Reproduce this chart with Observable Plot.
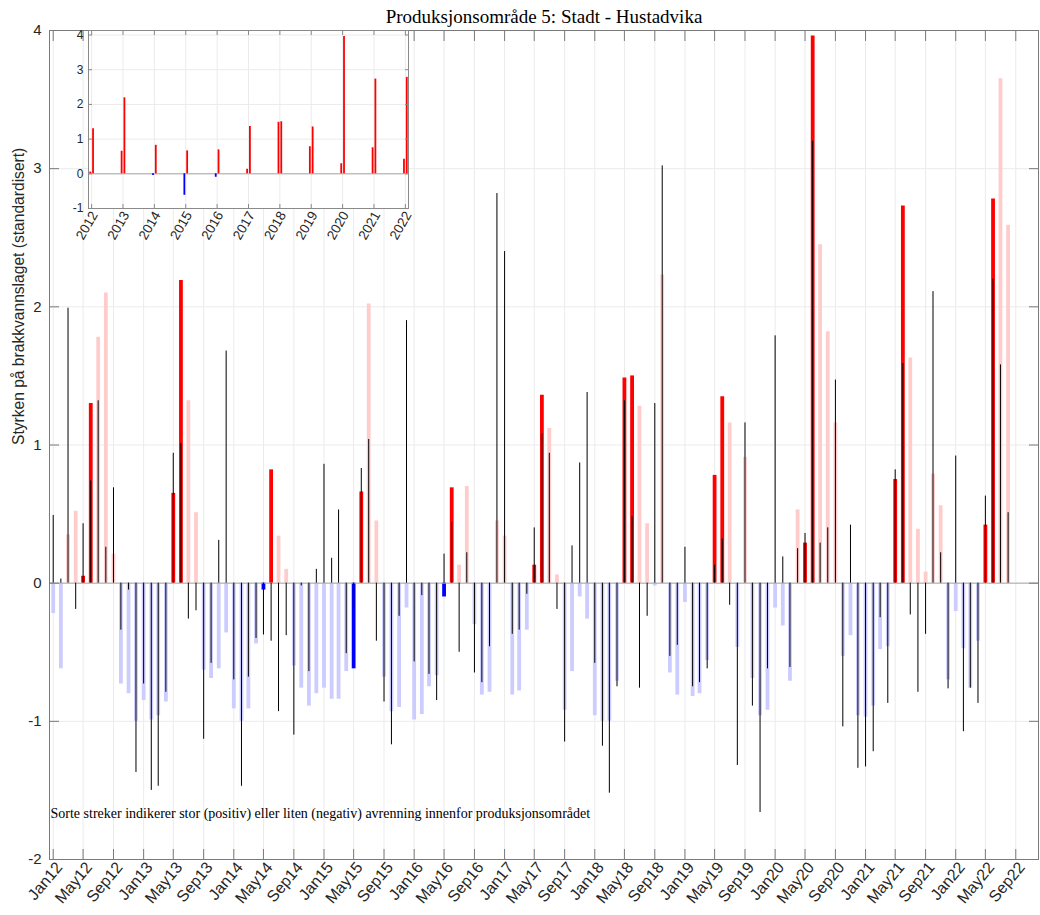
<!DOCTYPE html>
<html>
<head>
<meta charset="utf-8">
<script src="https://cdn.jsdelivr.net/npm/d3@7"></script>
<script src="https://cdn.jsdelivr.net/npm/@observablehq/plot@0.6"></script>
<style>
  body { margin: 0; background: white; }
  #wrap { position: relative; width: 1040px; height: 915px; }
  #wrap svg { position: absolute; left: 0; top: 0; overflow: visible; }
</style>
</head>
<body>
<div id="wrap"></div>
<script>
// ---------------- DATA ----------------
const title = "Produksjonsområde 5: Stadt - Hustadvika";
const yLabel = "Styrken på brakkvannslaget (standardisert)";
const note = "Sorte streker indikerer stor (positiv) eller liten (negativ) avrenning innenfor produksjonsområdet";

const monthAbbr = ["Jan","Feb","Mar","Apr","May","Jun","Jul","Aug","Sep","Oct","Nov","Dec"];
const highlightMonths = ["May","Jun"];
const years = [2012,2013,2014,2015,2016,2017,2018,2019,2020,2021,2022];

// Monthly standardized strength of the brackish layer (bars)
const strength2012 = [-0.22,-0.62,0.35,0.52,0.05,1.30,1.78,2.10,0.21,-0.73,-0.80,-1.00];
const strength2013 = [-0.85,-0.99,-0.96,-0.86,0.65,2.19,1.32,0.51,-0.63,-0.69,-0.62,-0.36];
const strength2014 = [-0.91,-1.00,-0.91,-0.44,-0.05,0.82,0.34,0.10,-0.60,-0.76,-0.89,-0.80];
const strength2015 = [-0.76,-0.84,-0.84,-0.64,-0.62,0.66,2.02,0.45,-0.68,-0.93,-0.90,-0.18];
const strength2016 = [-0.99,-0.95,-0.75,-0.67,-0.10,0.69,0.13,0.70,-0.30,-0.81,-0.79,0.45];
const strength2017 = [0.34,-0.81,-0.78,-0.34,0.13,1.36,1.12,0.06,-0.92,-0.64,-0.10,-0.26];
const strength2018 = [-0.96,-1.00,-1.00,-0.71,1.485,1.50,1.28,0.43,-0.02,2.23,-0.65,-0.81];
const strength2019 = [-0.14,-0.82,-0.80,-0.56,0.78,1.35,1.16,-0.465,0.91,-0.69,-0.96,-0.92];
const strength2020 = [-0.18,-0.31,-0.71,0.53,0.29,3.96,2.45,1.82,1.16,-0.53,-0.38,-0.96];
const strength2021 = [-0.97,-0.89,-0.48,-0.46,0.75,2.73,1.63,0.39,0.08,0.79,0.56,-0.70];
const strength2022 = [-0.205,-0.475,-0.76,-0.42,0.42,2.78,3.65,2.59];

// Monthly standardized runoff (black lines)
const runoff2012 = [0.49,0.03,1.99,-0.19,0.43,0.74,1.32,0.26,0.69,-0.34,-0.05,-1.37];
const runoff2013 = [-0.73,-1.50,-1.47,-0.79,0.94,1.01,-0.26,-0.20,-1.13,-0.58,0.31,1.68];
const runoff2014 = [-0.70,-1.47,-0.68,-0.40,-0.375,-0.42,-0.93,-0.38,-1.10,-0.02,-0.64,0.10];
const runoff2015 = [0.86,0.18,0.53,-0.51,-0.185,0.83,1.04,-0.42,-0.86,-1.17,-0.24,1.90];
const runoff2016 = [-0.57,-0.09,-0.66,-0.85,0.21,0.44,-0.50,0.22,-0.65,-0.72,-0.46,2.82];
const runoff2017 = [2.40,-0.37,-0.34,-0.08,0.40,1.08,0.94,-0.19,-1.15,0.27,0.87,1.38];
const runoff2018 = [-0.58,-1.18,-1.52,-0.75,1.32,0.48,-0.76,-0.24,1.30,3.02,-0.53,-0.45];
const runoff2019 = [0.26,-0.75,-0.72,-0.62,0.13,0.32,-0.16,-1.32,1.16,-0.89,-1.66,-0.62];
const runoff2020 = [1.79,0.19,-0.61,0.25,0.36,3.20,0.29,0.40,1.47,-1.04,0.42,-1.34];
const runoff2021 = [-1.33,-1.22,-0.25,-0.87,0.82,1.59,-0.23,-0.79,-0.37,2.11,0.22,-0.765];
const runoff2022 = [0.92,-1.075,-0.76,-0.87,0.63,2.20,1.58,0.51];

const strengthByYear = [strength2012,strength2013,strength2014,strength2015,strength2016,strength2017,strength2018,strength2019,strength2020,strength2021,strength2022];
const runoffByYear = [runoff2012,runoff2013,runoff2014,runoff2015,runoff2016,runoff2017,runoff2018,runoff2019,runoff2020,runoff2021,runoff2022];

const xTickLabels = ["Jan12","May12","Sep12","Jan13","May13","Sep13","Jan14","May14","Sep14",
  "Jan15","May15","Sep15","Jan16","May16","Sep16","Jan17","May17","Sep17","Jan18","May18","Sep18",
  "Jan19","May19","Sep19","Jan20","May20","Sep20","Jan21","May21","Sep21","Jan22","May22","Sep22"];
const yTicks = [-2,-1,0,1,2,3,4];
const insetYTicks = [-1,0,1,2,3,4];
const insetXTicks = years;

// ---------------- TABLES ----------------
const parseTick = d3.utcParse("%b%y");
const xTicks = xTickLabels.map(parseTick);

const monthly = [];
years.forEach((yr, yi) => {
  strengthByYear[yi].forEach((v, mi) => {
    const hi = highlightMonths.includes(monthAbbr[mi]);
    monthly.push({
      date: new Date(Date.UTC(yr, mi, 1)),
      year: yr, month: monthAbbr[mi],
      value: v,
      runoff: runoffByYear[yi][mi],
      color: hi ? (v >= 0 ? "#ff0000" : "#0000ff") : (v >= 0 ? "#ffcccc" : "#ccccff")
    });
  });
});
const insetData = monthly.filter(d => highlightMonths.includes(d.month));

const sans = "'Liberation Sans', Arial, sans-serif";
const serif = "'Liberation Serif', 'DejaVu Serif', serif";

// ---------------- MAIN CHART ----------------
const main = Plot.plot({
  width: 1040, height: 915,
  marginLeft: 49, marginRight: 2, marginTop: 30, marginBottom: 56,
  style: {fontFamily: sans, background: "white", overflow: "visible"},
  x: {type: "utc", domain: [new Date(Date.UTC(2011, 11, 17)), new Date(Date.UTC(2022, 11, 2))]},
  y: {domain: [-2, 4]},
  color: {type: "identity"},
  marks: [
    Plot.gridX(xTicks, {stroke: "#ebebeb", strokeOpacity: 1}),
    Plot.gridY(yTicks, {stroke: "#ebebeb", strokeOpacity: 1}),
    Plot.ruleX(monthly, {x: "date", y1: 0, y2: "value", stroke: "color", strokeWidth: 3.8}),
    Plot.ruleY([0], {stroke: "#a8a8a8", strokeWidth: 1}),
    Plot.ruleX(monthly, {x: "date", y1: 0, y2: "runoff", stroke: "black", strokeWidth: 1}),
    Plot.frame({stroke: "#7a7a7a", strokeWidth: 1}),
    Plot.axisX(xTicks, {anchor: "bottom", tickSize: -10, tickFormat: () => "", label: null, stroke: "#7a7a7a"}),
    Plot.axisX(xTicks, {anchor: "top", tickSize: -10, tickFormat: () => "", label: null, stroke: "#7a7a7a"}),
    Plot.axisY(yTicks, {anchor: "left", tickSize: -10, tickFormat: () => "", label: null, stroke: "#7a7a7a"}),
    Plot.axisY(yTicks, {anchor: "right", tickSize: -10, tickFormat: () => "", label: null, stroke: "#7a7a7a"}),
    Plot.axisY(yTicks, {anchor: "left", tickSize: 0, tickPadding: 8, tickFormat: d => String(d), label: null, fontSize: 15, fill: "#262626"}),
    Plot.axisX(xTicks, {anchor: "bottom", tickSize: 0, tickPadding: 5, tickRotate: -50, dx: 6, tickFormat: (d, i) => xTickLabels[i], label: null, fontSize: 16, fill: "#262626"}),
    Plot.text([yLabel], {frameAnchor: "left", rotate: -90, dx: -31, fontSize: 15.6, fill: "#262626", fontFamily: sans}),
    Plot.text([title], {frameAnchor: "top", dy: -21, fontSize: 19, fill: "black", fontFamily: serif}),
    Plot.text([note], {frameAnchor: "bottom-left", textAnchor: "start", dx: 1, dy: -42, fontSize: 14, fill: "black", fontFamily: serif})
  ]
});

// ---------------- INSET ----------------
const inset = Plot.plot({
  width: 420, height: 250,
  marginLeft: 88, marginRight: 12, marginTop: 30, marginBottom: 42,
  style: {fontFamily: sans, background: "none", overflow: "visible"},
  x: {domain: [2011.9, 2022.1]},
  y: {domain: [-1, 4.13]},
  color: {type: "identity"},
  marks: [
    Plot.frame({fill: "white", stroke: null}),
    Plot.gridX(insetXTicks, {stroke: "#ebebeb", strokeOpacity: 1}),
    Plot.gridY(insetYTicks, {stroke: "#ebebeb", strokeOpacity: 1}),
    Plot.ruleY([0], {stroke: "#a8a8a8"}),
    Plot.ruleX(insetData.filter(d => d.month === highlightMonths[0]), {x: "year", y1: 0, y2: "value", stroke: d => d.value >= 0 ? "#ff0000" : "#0000ff", strokeWidth: 1.8, dx: -1.4}),
    Plot.ruleX(insetData.filter(d => d.month === highlightMonths[1]), {x: "year", y1: 0, y2: "value", stroke: d => d.value >= 0 ? "#ff0000" : "#0000ff", strokeWidth: 1.8, dx: 1.4}),
    Plot.frame({stroke: "#8a8a8a", strokeWidth: 1}),
    Plot.axisX(insetXTicks, {anchor: "bottom", tickSize: -4, tickFormat: () => "", label: null, stroke: "#8a8a8a"}),
    Plot.axisX(insetXTicks, {anchor: "top", tickSize: -4, tickFormat: () => "", label: null, stroke: "#8a8a8a"}),
    Plot.axisY(insetYTicks, {anchor: "left", tickSize: -4, tickFormat: () => "", label: null, stroke: "#8a8a8a"}),
    Plot.axisY(insetYTicks, {anchor: "right", tickSize: -4, tickFormat: () => "", label: null, stroke: "#8a8a8a"}),
    Plot.axisY(insetYTicks, {anchor: "left", tickSize: 0, tickPadding: 5, tickFormat: d => String(d), label: null, fontSize: 12, fill: "#262626"}),
    Plot.axisX(insetXTicks, {anchor: "bottom", tickSize: 0, tickPadding: 4, tickRotate: -60, dx: 3, tickFormat: d => String(d), label: null, fontSize: 13.5, fill: "#262626"})
  ]
});

const wrap = document.getElementById("wrap");
wrap.appendChild(main);
wrap.appendChild(inset);
</script>
</body>
</html>
